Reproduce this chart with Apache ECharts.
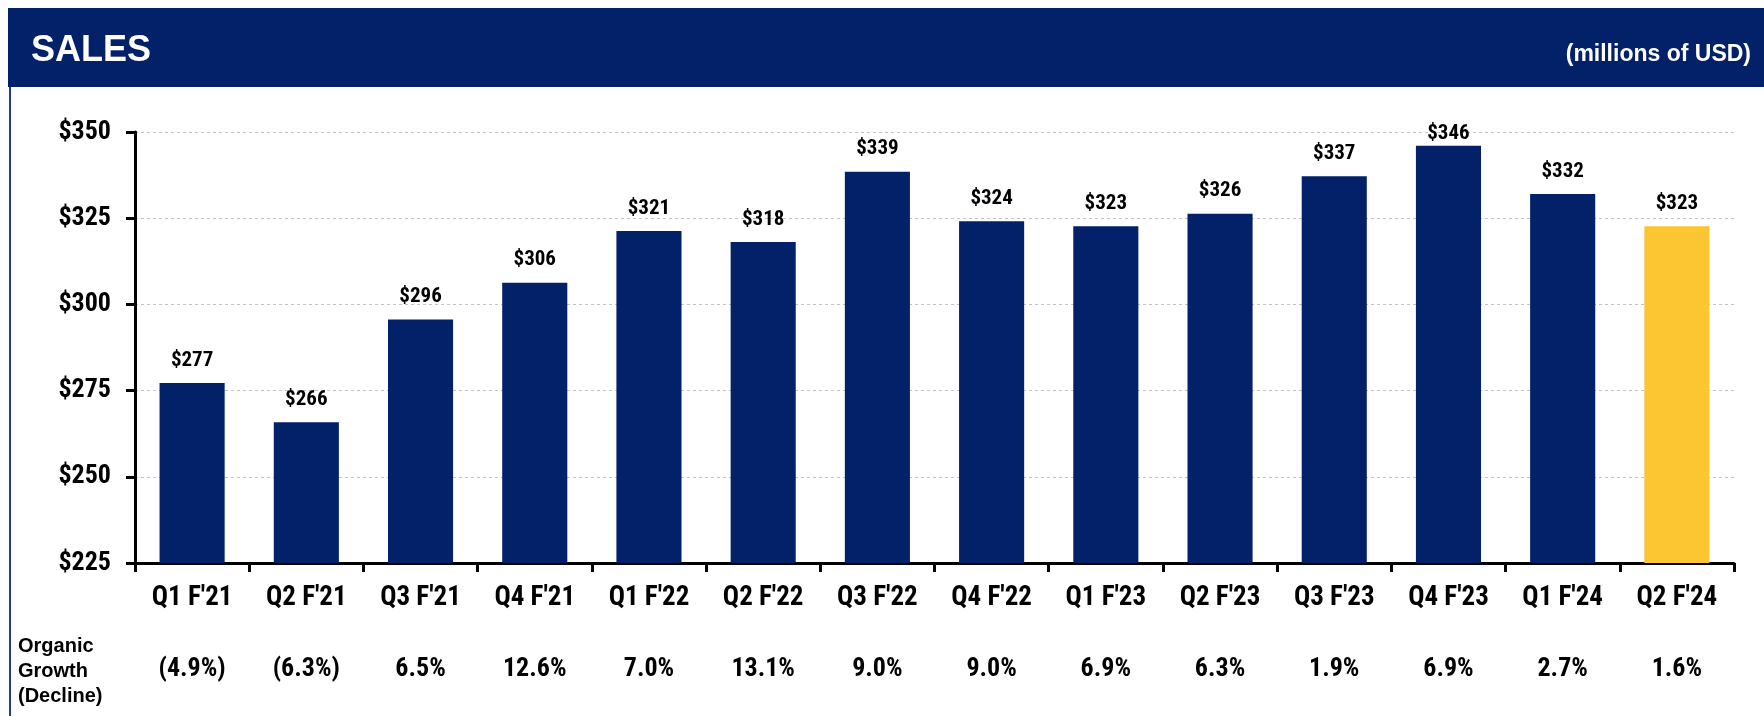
<!DOCTYPE html>
<html>
<head>
<meta charset="utf-8">
<script src="https://cdn.jsdelivr.net/npm/echarts@6/dist/echarts.min.js"></script>
<style>
  html, body { margin: 0; padding: 0; background: #fff; }
  #chart { width: 1764px; height: 716px; }
</style>
</head>
<body>
<div id="chart"></div>
<script>
  const quarters = ["Q1 F'21", "Q2 F'21", "Q3 F'21", "Q4 F'21", "Q1 F'22", "Q2 F'22", "Q3 F'22",
    "Q4 F'22", "Q1 F'23", "Q2 F'23", "Q3 F'23", "Q4 F'23", "Q1 F'24", "Q2 F'24"];
  const sales = [277.2, 265.8, 295.6, 306.3, 321.3, 318.1, 338.5, 324.1, 322.7, 326.3, 337.2, 346.0, 332.0, 322.7];
  const growth = ['(4.9%)', '(6.3%)', '6.5%', '12.6%', '7.0%', '13.1%', '9.0%', '9.0%', '6.9%', '6.3%', '1.9%', '6.9%', '2.7%', '1.6%'];
  const yTicks = [225, 250, 275, 300, 325, 350];

  const navy = '#022169';
  const gold = '#FCC632';
  // condensed bold face for the numbers (Arial Narrow look)
  const narrow = 'Roboto';
  const narrowWeight = 'bold condensed';
  const sans = "'Liberation Sans', Arial, sans-serif";

  const chart = echarts.init(document.getElementById('chart'));

  const barData = sales.map((v, i) => {
    const item = { value: v, itemStyle: { color: i === sales.length - 1 ? gold : navy } };
    if (v > 343) item.label = { distance: 2 };
    return item;
  });

  const options = {
    animation: false,
    title: [
      {
        text: 'SALES',
        left: 26,
        top: 28,
        textStyle: { color: '#fff', fontSize: 36, fontWeight: 'bold', fontFamily: sans }
      },
      {
        text: '(millions of USD)',
        right: 8,
        top: 38,
        textStyle: { color: '#fff', fontSize: 23, fontWeight: 'bold', fontFamily: sans }
      }
    ],
    graphic: [
      { type: 'rect', z: -1, shape: { x: 8, y: 8, width: 1756, height: 79 }, style: { fill: navy } },
      { type: 'rect', z: -1, shape: { x: 9, y: 87, width: 2, height: 629 }, style: { fill: '#1f3c93' } },
      {
        type: 'text',
        left: 18,
        top: 634,
        style: {
          text: 'Organic\nGrowth\n(Decline)',
          fill: '#000',
          font: 'bold 20px ' + sans,
          lineHeight: 25
        }
      }
    ],
    grid: { left: 135, right: 30, top: 132, bottom: 153 },
    xAxis: [
      {
        type: 'category',
        data: quarters,
        axisLine: { lineStyle: { color: '#000', width: 3 } },
        axisTick: { show: true, length: 9, lineStyle: { color: '#000', width: 3 } },
        axisLabel: { interval: 0, margin: 22, color: '#000', fontSize: 27, fontWeight: narrowWeight, fontFamily: narrow }
      },
      {
        type: 'category',
        position: 'bottom',
        offset: 80,
        data: growth,
        axisLine: { show: false },
        axisTick: { show: false },
        axisLabel: { interval: 0, margin: 13, color: '#000', fontSize: 26, fontWeight: narrowWeight, fontFamily: narrow }
      }
    ],
    yAxis: {
      type: 'value',
      min: yTicks[0],
      max: yTicks[yTicks.length - 1],
      interval: 25,
      axisLine: { show: true, lineStyle: { color: '#000', width: 3 } },
      axisTick: { show: true, length: 9, lineStyle: { color: '#000', width: 3 } },
      splitLine: { show: true, lineStyle: { color: '#c4c4c4', width: 1, type: [3, 3] } },
      axisLabel: {
        margin: 24,
        color: '#000',
        fontSize: 26,
        fontWeight: narrowWeight,
        fontFamily: narrow,
        formatter: (v) => '$' + v
      }
    },
    series: [
      {
        type: 'bar',
        xAxisIndex: 0,
        data: barData,
        barCategoryGap: '43%',
        label: {
          show: true,
          position: 'top',
          distance: 12,
          color: '#000',
          fontSize: 21,
          fontWeight: narrowWeight,
          fontFamily: narrow,
          formatter: (p) => '$' + Math.round(p.value)
        }
      }
    ]
  };

  chart.setOption(options);
</script>
</body>
</html>
